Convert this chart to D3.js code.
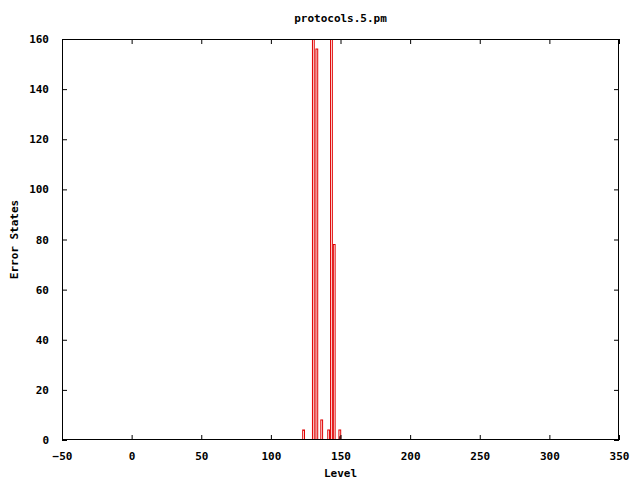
<!DOCTYPE html>
<html><head><meta charset="utf-8">
<script src="https://cdn.jsdelivr.net/npm/d3@7"></script>
<style>body{margin:0;background:#fff}svg{display:block}text{font-family:"DejaVu Sans Mono",monospace;font-weight:bold;font-size:11px;fill:#000}</style>
</head><body>
<script>
const levels = [123.5, 130.5, 133, 136.5, 141.5, 143.5, 145.5, 149.5];
const errorStates = [4, 200, 156, 8, 4, 200, 78, 4];
const levels2 = [149.5];
const errorStates2 = [1.5];
const xTicks = [-50, 0, 50, 100, 150, 200, 250, 300, 350];
const yTicks = [0, 20, 40, 60, 80, 100, 120, 140, 160];

const W = 640, H = 480, m = {l: 62, r: 21, t: 39, b: 40};
const svg = d3.select("body").append("svg").attr("width", W).attr("height", H);
const x = d3.scaleLinear().domain([-50, 350]).range([m.l, W - m.r]);
const y = d3.scaleLinear().domain([0, 160]).range([H - m.b, m.t]);
const boxW = 2;

svg.append("defs").append("clipPath").attr("id", "c").append("rect")
  .attr("x", m.l).attr("y", m.t).attr("width", W - m.r - m.l).attr("height", H - m.b - m.t);

const g = svg.append("g").attr("clip-path", "url(#c)");
g.selectAll("rect.s1").data(levels).enter().append("rect")
  .attr("x", (d) => x(d - boxW / 2) + 0.5)
  .attr("width", (d) => Math.max(1, x(d + boxW / 2) - x(d - boxW / 2) - 1))
  .attr("y", (d, i) => y(errorStates[i]))
  .attr("height", (d, i) => y(0) - y(errorStates[i]))
  .attr("fill", "none").attr("stroke", "#e00000").attr("stroke-width", 1);
g.selectAll("rect.s2").data(levels2).enter().append("rect")
  .attr("x", (d) => x(d) - 0.5)
  .attr("width", 1)
  .attr("y", (d, i) => y(errorStates2[i]))
  .attr("height", (d, i) => y(0) - y(errorStates2[i]))
  .attr("fill", "#400000");

const tl = 5;
const axB = svg.append("g").attr("transform", `translate(0,${H - m.b})`)
  .call(d3.axisBottom(x).tickValues(xTicks).tickSize(-tl).tickPadding(tl + 7));
const axT = svg.append("g").attr("transform", `translate(0,${m.t})`)
  .call(d3.axisTop(x).tickValues(xTicks).tickSize(-tl).tickFormat(""));
const axL = svg.append("g").attr("transform", `translate(${m.l},0)`)
  .call(d3.axisLeft(y).tickValues(yTicks).tickSize(-tl).tickPadding(tl + 8));
const axR = svg.append("g").attr("transform", `translate(${W - m.r},0)`)
  .call(d3.axisRight(y).tickValues(yTicks).tickSize(-tl).tickFormat(""));
[axB, axT, axL, axR].forEach(a => {
  a.select(".domain").remove();
  a.selectAll("line").attr("stroke", "#000");
  a.selectAll("text").attr("font-family", null).attr("font-size", null).attr("fill", "#000");
});
svg.append("rect").attr("x", m.l + 0.5).attr("y", m.t + 0.5)
  .attr("width", W - m.r - m.l - 1).attr("height", H - m.b - m.t - 1)
  .attr("fill", "none").attr("stroke", "#000");

svg.append("text").attr("x", (m.l + W - m.r) / 2).attr("y", 22).attr("text-anchor", "middle").text("protocols.5.pm");
svg.append("text").attr("x", (m.l + W - m.r) / 2).attr("y", 477).attr("text-anchor", "middle").text("Level");
svg.append("text").attr("transform", `translate(18,${(m.t + H - m.b) / 2}) rotate(-90)`).attr("text-anchor", "middle").text("Error States");
</script>
</body></html>
